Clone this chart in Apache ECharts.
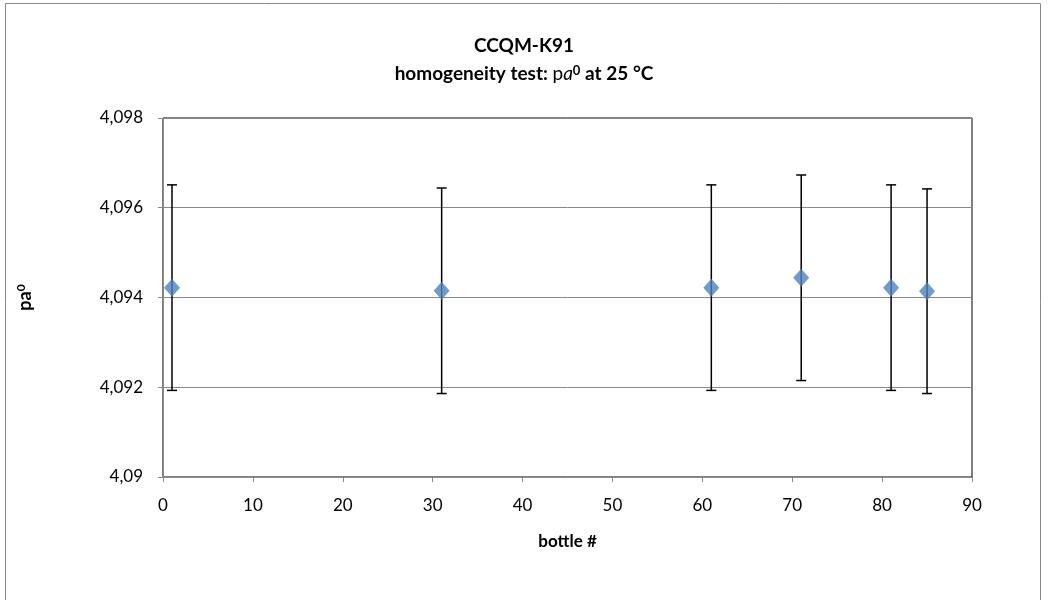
<!DOCTYPE html>
<html><head><meta charset="utf-8">
<script src="https://cdn.jsdelivr.net/npm/echarts@6/dist/echarts.min.js"></script>
<style>html,body{margin:0;padding:0;background:#fff}#c{width:1048px;height:600px}</style>
</head><body><div id="c"></div>
<script>
const bottles = [1, 31, 61, 71, 81, 85];
const values = [4.09422, 4.09415, 4.09422, 4.09444, 4.09422, 4.09414];
const uncertainty = [0.00229, 0.00229, 0.00229, 0.00229, 0.00229, 0.00228];
const xTicks = {min: 0, max: 90, interval: 10};
const yTicks = {min: 4.090, max: 4.098, interval: 0.002};

const FONT = 'Lato';
const chart = echarts.init(document.getElementById('c'), null, {renderer: 'canvas'});
const pts = bottles.map((b, i) => [b, values[i]]);
const errs = bottles.map((b, i) => [b, values[i] - uncertainty[i], values[i] + uncertainty[i]]);

chart.setOption({
  animation: false,
  textStyle: {fontFamily: FONT},
  title: {
    left: 'center', top: 31, itemGap: 9,
    text: 'CCQM-K91',
    textStyle: {fontFamily: FONT, fontSize: 19, fontWeight: 'bold', color: '#000'},
    subtext: '{b|homogeneity test: }{n|p}{i|a}{s|0}{b| at 25 °C}',
    subtextStyle: {
      rich: {
        b: {fontFamily: FONT, fontSize: 19, fontWeight: 'bold', color: '#000'},
        n: {fontFamily: FONT, fontSize: 19, color: '#000'},
        i: {fontFamily: FONT, fontSize: 19, fontStyle: 'italic', color: '#000'},
        s: {fontFamily: FONT, fontSize: 13, fontWeight: 'bold', color: '#000', verticalAlign: 'top', padding: [0,0,7,0]}
      }
    }
  },
  graphic: [{
    type: 'rect', shape: {x: 5.5, y: 3.5, width: 1035, height: 620},
    style: {fill: null, stroke: '#888', lineWidth: 1}, silent: true, z: -10
  }],
  grid: {left: 163, right: 76, top: 118, bottom: 123, show: true, borderColor: '#000', borderWidth: 1},
  xAxis: {
    type: 'value', min: xTicks.min, max: xTicks.max, interval: xTicks.interval,
    name: 'bottle #', nameLocation: 'middle', nameGap: 56,
    nameTextStyle: {fontFamily: FONT, fontSize: 17, fontWeight: 'bold', color: '#000'},
    axisLine: {show: true, onZero: false, lineStyle: {color: '#888', width: 1}},
    axisTick: {show: true, length: 5, lineStyle: {color: '#888'}},
    axisLabel: {fontFamily: FONT, fontSize: 17, color: '#000', margin: 20},
    splitLine: {show: false}
  },
  yAxis: {
    type: 'value', min: yTicks.min, max: yTicks.max, interval: yTicks.interval,
    name: '{t|pa}{s|0}', nameLocation: 'middle', nameGap: 128, nameRotate: 90,
    nameTextStyle: {
      rich: {
        t: {fontFamily: FONT, fontSize: 18, fontWeight: 'bold', color: '#000'},
        s: {fontFamily: FONT, fontSize: 12, fontWeight: 'bold', color: '#000', verticalAlign: 'top', padding: [0,0,8,0]}
      }
    },
    axisLine: {show: true, lineStyle: {color: '#888', width: 1}},
    axisTick: {show: true, length: 5, lineStyle: {color: '#888'}},
    axisLabel: {fontFamily: FONT, fontSize: 17, color: '#000', margin: 20,
      formatter: v => parseFloat(v.toFixed(3)).toString().replace('.', ',')},
    splitLine: {show: true, lineStyle: {color: '#888', width: 1}}
  },
  series: [{
    type: 'custom',
    data: errs,
    encode: {x: 0, y: [1, 2]},
    z: 3,
    renderItem: function (params, api) {
      const x = api.value(0);
      const lo = api.coord([x, api.value(1)]);
      const hi = api.coord([x, api.value(2)]);
      const w = 5;
      const st = {stroke: '#000', lineWidth: 1.5};
      return {type: 'group', children: [
        {type: 'line', shape: {x1: lo[0], y1: lo[1], x2: hi[0], y2: hi[1]}, style: st},
        {type: 'line', shape: {x1: lo[0]-w, y1: lo[1], x2: lo[0]+w, y2: lo[1]}, style: st},
        {type: 'line', shape: {x1: hi[0]-w, y1: hi[1], x2: hi[0]+w, y2: hi[1]}, style: st}
      ]};
    }
  }, {
    type: 'scatter', data: pts, symbol: 'diamond', symbolSize: [16, 18], z: 5,
    itemStyle: {color: '#4f81bd'}
  }]
});
</script></body></html>
